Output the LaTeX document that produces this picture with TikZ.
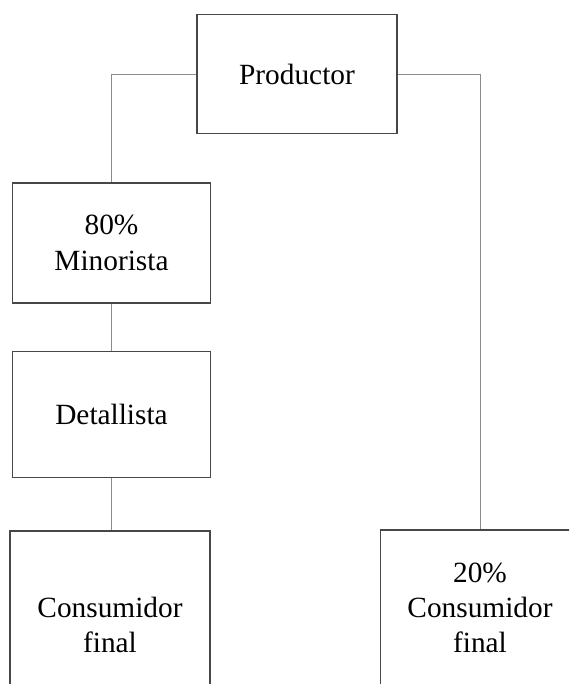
\documentclass[tikz,border=0pt]{standalone}
\usepackage{fontspec}
\setmainfont{Liberation Serif}
\usetikzlibrary{calc}

\begin{document}
\begin{tikzpicture}[x=0.75pt, y=-0.75pt,
		caja/.style={draw=black!72, line width=0.9pt, align=center, inner sep=0pt,
			font=\fontsize{22}{26.5}\selectfont},
		linea/.style={draw=black!45, line width=0.6pt}]
		%%%%% START %%%%%
		
		\clip (0, 0) rectangle (569, 684);
		
		\node[caja, minimum width=150pt, minimum height=89pt] (prod) at (297, 74) {Productor};
		
		\node[caja, minimum width=149pt, minimum height=90pt] (mino) at (111.5, 243) {80\%\\Minorista};
		\node[caja, minimum width=149pt, minimum height=94pt] (deta) at (111.5, 414.5) {Detallista};
		
		\node[caja, minimum width=150pt, minimum height=141pt] (cons1) at (110, 625) {Consumidor\\final};
		\node[caja, minimum width=149pt, minimum height=117pt] (cons2) at (480, 608) {20\%\\Consumidor\\final};
		
		\draw[linea] (prod.west) -| (mino.north);
		\draw[linea] (prod.east) -| (cons2.north);
		\draw[linea] (mino.south) -- (deta.south |- deta.north);
		\draw[linea] (deta.south) -- (cons1.north -| deta.south);
		
		%%%%% END %%%%%
	\end{tikzpicture}
\end{document}
